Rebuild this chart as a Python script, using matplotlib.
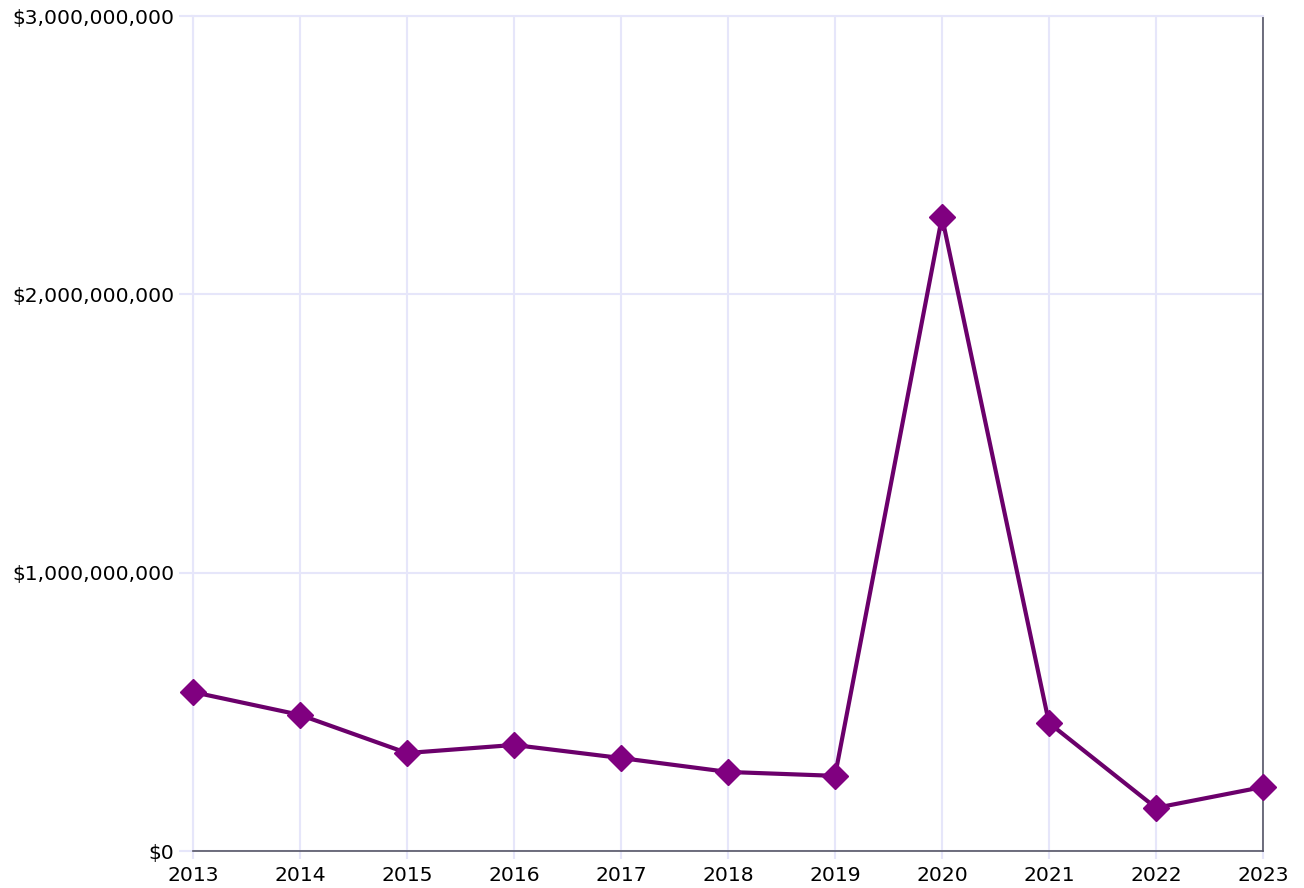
import matplotlib
matplotlib.use("Agg")
import matplotlib.pyplot as plt
from matplotlib.ticker import FuncFormatter

# values (dollars)
years = [2013, 2014, 2015, 2016, 2017, 2018, 2019, 2020, 2021, 2022, 2023]
amounts = [571e6, 489e6, 352e6, 381e6, 334e6, 284e6, 270e6, 2278e6, 460e6, 155e6, 230e6]
y_ticks = [0, 1e9, 2e9, 3e9]

grid_col = '#e6e6fa'
spine_col = '#555566'

fig = plt.figure(figsize=(13.04, 8.88), dpi=100)
ax = fig.add_axes([193/1304, 1 - 851/888, (1263-193)/1304, (851-16)/888])

ax.plot(years, amounts, color='#6b006b', lw=3, zorder=3, clip_on=False)
ax.plot(years, amounts, 'D', color='#800080', ms=13, zorder=4, clip_on=False)

ax.set_xlim(years[0], years[-1])
ax.set_ylim(0, 3e9)
ax.set_xticks(years)
ax.set_yticks(y_ticks)
ax.yaxis.set_major_formatter(FuncFormatter(lambda v, p: '${:,.0f}'.format(v)))

ax.grid(True, color=grid_col, lw=1.5)
ax.set_axisbelow(True)
ax.tick_params(axis='both', colors=grid_col, width=1.5,
               labelcolor='black', labelsize=14.6)
ax.tick_params(axis='y', length=10, pad=3.5)
ax.tick_params(axis='x', length=6, pad=4.5)

for s in ['left', 'top']:
    ax.spines[s].set_color(grid_col)
    ax.spines[s].set_linewidth(1.5)
for s in ['bottom', 'right']:
    ax.spines[s].set_color(spine_col)
    ax.spines[s].set_linewidth(1.2)

plt.savefig('out.png', dpi=100)
